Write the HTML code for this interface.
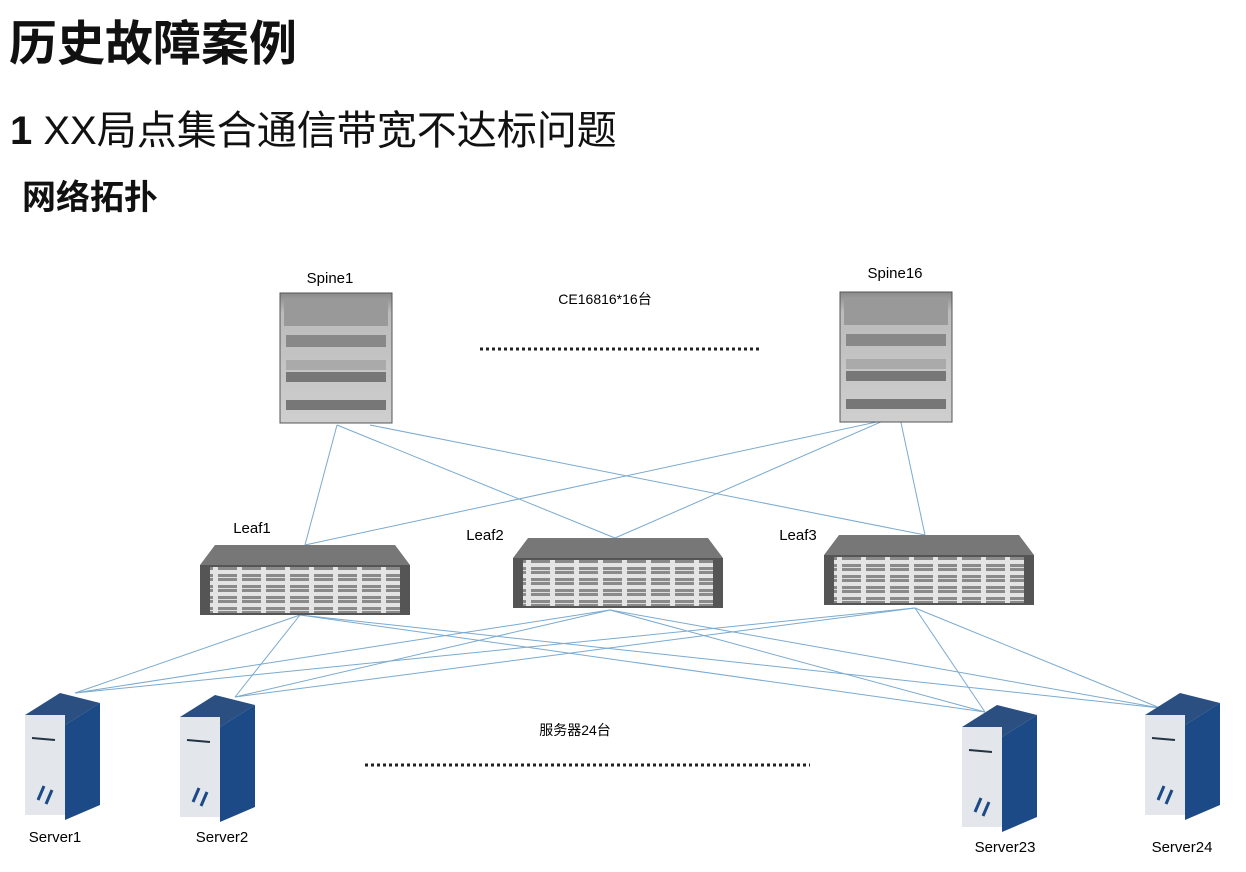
<!DOCTYPE html>
<html><head><meta charset="utf-8"><style>
body{margin:0;width:1246px;height:872px;background:#fff;overflow:hidden;font-family:"Liberation Sans","Noto Sans CJK SC",sans-serif;}
.t{position:absolute;white-space:nowrap;color:#111}
</style></head><body>
<div class="t" style="left:9px;top:4px;font-size:48px;font-weight:bold;">历史故障案例</div>
<div class="t" style="left:10px;top:98px;font-size:40px;"><b>1</b> XX局点集合通信带宽不达标问题</div>
<div class="t" style="left:22px;top:170px;font-size:34px;font-weight:bold;">网络拓扑</div>
<svg width="1246" height="872" style="position:absolute;left:0;top:0" font-family="Liberation Sans, Noto Sans CJK SC, sans-serif">
<defs>
<linearGradient id="sp" x1="0" y1="0" x2="0" y2="1"><stop offset="0" stop-color="#8a8a8a"/><stop offset="0.15" stop-color="#bbb"/><stop offset="1" stop-color="#cfcfcf"/></linearGradient>
<pattern id="ports" width="24" height="11" patternUnits="userSpaceOnUse"><rect width="24" height="11" fill="#e4e4e4"/><rect x="2" y="2" width="19" height="7" fill="#8a8a8a"/><line x1="2" y1="5.5" x2="21" y2="5.5" stroke="#ddd"/></pattern>
</defs>
<g stroke="#7aaad0" stroke-width="1" fill="none">
<line x1="337" y1="425" x2="305" y2="545"/><line x1="337" y1="425" x2="615" y2="538"/><line x1="370" y1="425" x2="925" y2="535"/>
<line x1="895" y1="418" x2="305" y2="545"/><line x1="890" y1="418" x2="615" y2="538"/><line x1="900" y1="418" x2="925" y2="535"/>
<g>
<line x1="300" y1="615" x2="75" y2="693"/><line x1="300" y1="615" x2="235" y2="697"/><line x1="300" y1="615" x2="985" y2="712"/><line x1="300" y1="615" x2="1160" y2="708"/>
<line x1="610" y1="610" x2="75" y2="693"/><line x1="610" y1="610" x2="235" y2="697"/><line x1="610" y1="610" x2="985" y2="712"/><line x1="610" y1="610" x2="1160" y2="708"/>
<line x1="915" y1="608" x2="75" y2="693"/><line x1="915" y1="608" x2="235" y2="697"/><line x1="915" y1="608" x2="985" y2="712"/><line x1="915" y1="608" x2="1160" y2="708"/>
</g></g>
<g id="spine">
<rect x="280" y="293" width="112" height="130" fill="url(#sp)" stroke="#555"/>
<rect x="284" y="298" width="104" height="28" fill="#999"/>
<rect x="286" y="335" width="100" height="12" fill="#888"/>
<rect x="286" y="360" width="100" height="10" fill="#aaa"/>
<rect x="286" y="372" width="100" height="10" fill="#777"/>
<rect x="286" y="400" width="100" height="10" fill="#777"/>
</g>
<use href="#spine" x="560" y="-1"/>
<text x="330" y="283" font-size="15" text-anchor="middle">Spine1</text>
<text x="895" y="278" font-size="15" text-anchor="middle">Spine16</text>
<text x="605" y="304" font-size="14" text-anchor="middle">CE16816*16台</text>
<line x1="480" y1="349" x2="760" y2="349" stroke="#222" stroke-width="3" stroke-dasharray="3,3"/>
<g id="leaf">
<polygon points="215,545 395,545 410,565 200,565" fill="#777"/>
<rect x="200" y="565" width="210" height="50" fill="#555"/>
<rect x="210" y="567" width="190" height="46" fill="url(#ports)"/>
</g>
<use href="#leaf" x="313" y="-7"/>
<use href="#leaf" x="624" y="-10"/>
<text x="252" y="533" font-size="15" text-anchor="middle">Leaf1</text>
<text x="485" y="540" font-size="15" text-anchor="middle">Leaf2</text>
<text x="798" y="540" font-size="15" text-anchor="middle">Leaf3</text>
<g id="srv">
<polygon points="25,715 60,693 100,703 65,725" fill="#2a4f80"/>
<rect x="25" y="715" width="40" height="100" fill="#e3e6ea"/>
<polygon points="65,725 100,703 100,805 65,820" fill="#1b4a86"/>
<path d="M38,800 l6,-14 M46,804 l6,-14" stroke="#1b4a86" stroke-width="3"/>
<line x1="32" y1="738" x2="55" y2="740" stroke="#234" stroke-width="2"/>
</g>
<use href="#srv" x="155" y="2"/>
<use href="#srv" x="937" y="12"/>
<use href="#srv" x="1120" y="0"/>
<text x="55" y="842" font-size="15" text-anchor="middle">Server1</text>
<text x="222" y="842" font-size="15" text-anchor="middle">Server2</text>
<text x="1005" y="852" font-size="15" text-anchor="middle">Server23</text>
<text x="1182" y="852" font-size="15" text-anchor="middle">Server24</text>
<text x="575" y="735" font-size="14" text-anchor="middle">服务器24台</text>
<line x1="365" y1="765" x2="810" y2="765" stroke="#222" stroke-width="3" stroke-dasharray="3,3"/>
</svg>
</body></html>
